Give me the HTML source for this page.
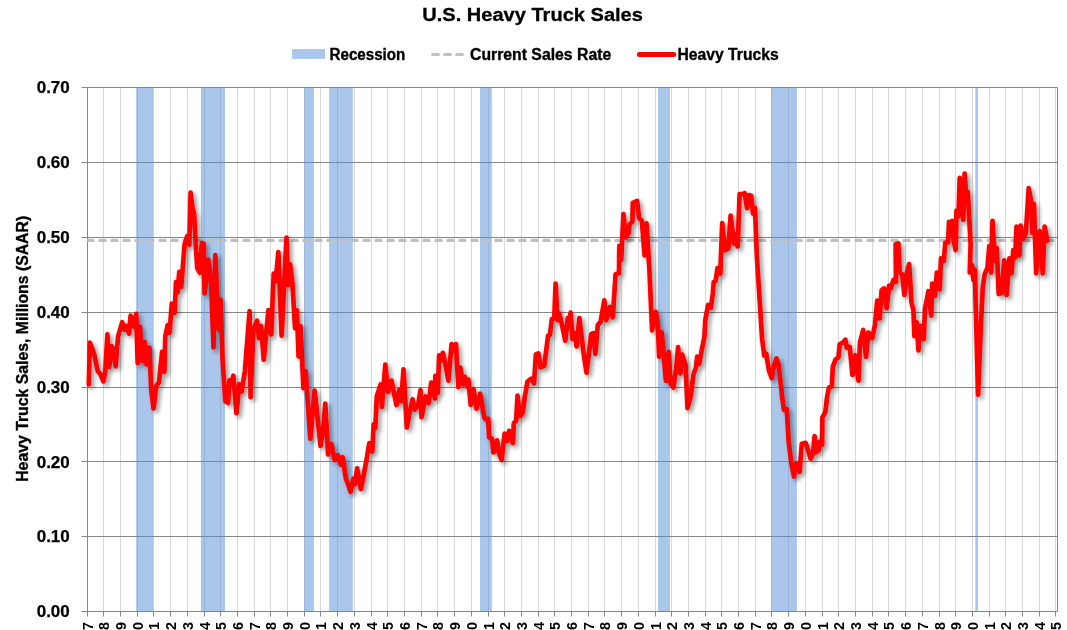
<!DOCTYPE html>
<html><head><meta charset="utf-8"><title>U.S. Heavy Truck Sales</title>
<style>
html,body{margin:0;padding:0;background:#fff;}
body{width:1067px;height:630px;overflow:hidden;}
svg{display:block;font-family:"Liberation Sans",sans-serif;font-weight:bold;fill:#000;}
</style></head><body>
<svg width="1067" height="630" viewBox="0 0 1067 630">
<defs>
<filter id="sh" x="-5%" y="-5%" width="110%" height="115%"><feDropShadow dx="2.7" dy="2.7" stdDeviation="2.3" flood-color="#000" flood-opacity="0.42"/></filter>
</defs>
<rect width="1067" height="630" fill="#fff"/>
<path d="M103.5 87.6V611.5M120.5 87.6V611.5M137.5 87.6V611.5M153.5 87.6V611.5M170.5 87.6V611.5M187.5 87.6V611.5M204.5 87.6V611.5M220.5 87.6V611.5M237.5 87.6V611.5M254.5 87.6V611.5M270.5 87.6V611.5M287.5 87.6V611.5M304.5 87.6V611.5M320.5 87.6V611.5M337.5 87.6V611.5M354.5 87.6V611.5M371.5 87.6V611.5M387.5 87.6V611.5M404.5 87.6V611.5M421.5 87.6V611.5M437.5 87.6V611.5M454.5 87.6V611.5M471.5 87.6V611.5M488.5 87.6V611.5M504.5 87.6V611.5M521.5 87.6V611.5M538.5 87.6V611.5M554.5 87.6V611.5M571.5 87.6V611.5M588.5 87.6V611.5M604.5 87.6V611.5M621.5 87.6V611.5M638.5 87.6V611.5M655.5 87.6V611.5M671.5 87.6V611.5M688.5 87.6V611.5M705.5 87.6V611.5M721.5 87.6V611.5M738.5 87.6V611.5M755.5 87.6V611.5M771.5 87.6V611.5M788.5 87.6V611.5M805.5 87.6V611.5M822.5 87.6V611.5M838.5 87.6V611.5M855.5 87.6V611.5M872.5 87.6V611.5M888.5 87.6V611.5M905.5 87.6V611.5M922.5 87.6V611.5M939.5 87.6V611.5M955.5 87.6V611.5M972.5 87.6V611.5M989.5 87.6V611.5M1005.5 87.6V611.5M1022.5 87.6V611.5M1039.5 87.6V611.5M1055.5 87.6V611.5" stroke="#D9D9D9" stroke-width="1" fill="none"/>
<path d="M81.5 87.5H1057.4M81.5 162.5H1057.4M81.5 237.5H1057.4M81.5 312.5H1057.4M81.5 387.5H1057.4M81.5 461.5H1057.4M81.5 536.5H1057.4M81.5 611.5H1057.4" stroke="#868686" stroke-width="1" fill="none"/>
<path d="M87.5 87.6V611.5M1057.5 87.6V611.5" stroke="#868686" stroke-width="1" fill="none"/>
<path d="M87.5 611.5V616.5M103.5 611.5V616.5M120.5 611.5V616.5M137.5 611.5V616.5M153.5 611.5V616.5M170.5 611.5V616.5M187.5 611.5V616.5M204.5 611.5V616.5M220.5 611.5V616.5M237.5 611.5V616.5M254.5 611.5V616.5M270.5 611.5V616.5M287.5 611.5V616.5M304.5 611.5V616.5M320.5 611.5V616.5M337.5 611.5V616.5M354.5 611.5V616.5M371.5 611.5V616.5M387.5 611.5V616.5M404.5 611.5V616.5M421.5 611.5V616.5M437.5 611.5V616.5M454.5 611.5V616.5M471.5 611.5V616.5M488.5 611.5V616.5M504.5 611.5V616.5M521.5 611.5V616.5M538.5 611.5V616.5M554.5 611.5V616.5M571.5 611.5V616.5M588.5 611.5V616.5M604.5 611.5V616.5M621.5 611.5V616.5M638.5 611.5V616.5M655.5 611.5V616.5M671.5 611.5V616.5M688.5 611.5V616.5M705.5 611.5V616.5M721.5 611.5V616.5M738.5 611.5V616.5M755.5 611.5V616.5M771.5 611.5V616.5M788.5 611.5V616.5M805.5 611.5V616.5M822.5 611.5V616.5M838.5 611.5V616.5M855.5 611.5V616.5M872.5 611.5V616.5M888.5 611.5V616.5M905.5 611.5V616.5M922.5 611.5V616.5M939.5 611.5V616.5M955.5 611.5V616.5M972.5 611.5V616.5M989.5 611.5V616.5M1005.5 611.5V616.5M1022.5 611.5V616.5M1039.5 611.5V616.5M1055.5 611.5V616.5" stroke="#868686" stroke-width="1" fill="none"/>
<rect x="136.1" y="87.6" width="17.1" height="523.9" fill="#558ED5" fill-opacity="0.5"/>
<rect x="200.9" y="87.6" width="24.1" height="523.9" fill="#558ED5" fill-opacity="0.5"/>
<rect x="304.1" y="87.6" width="9.8" height="523.9" fill="#558ED5" fill-opacity="0.5"/>
<rect x="329.1" y="87.6" width="23.7" height="523.9" fill="#558ED5" fill-opacity="0.5"/>
<rect x="480.0" y="87.6" width="11.8" height="523.9" fill="#558ED5" fill-opacity="0.5"/>
<rect x="658.0" y="87.6" width="12.0" height="523.9" fill="#558ED5" fill-opacity="0.5"/>
<rect x="771.1" y="87.6" width="25.8" height="523.9" fill="#558ED5" fill-opacity="0.5"/>
<rect x="975.3" y="87.6" width="2.7" height="523.9" fill="#558ED5" fill-opacity="0.5"/>
<path d="M87.5 240.4H1057.4" stroke="#BFBFBF" stroke-width="3.2" stroke-dasharray="5.2 6.8" stroke-dashoffset="-0.4" stroke-linecap="round" fill="none"/>
<path d="M88.8 384.5 L89.9 342.5 L94.1 354.1 L97.8 371.0 L100.6 374.7 L103.4 381.3 L105.3 371.0 L107.4 334.4 L109.2 366.9 L111.7 346.2 L113.4 349.4 L115.6 366.3 L118.1 336.3 L122.2 322.2 L124.6 329.7 L126.5 326.0 L129.1 333.5 L130.6 315.7 L133.0 321.3 L134.4 326.9 L136.2 313.8 L137.7 363.1 L140.0 326.9 L142.4 360.7 L144.7 341.9 L146.5 364.4 L149.4 347.5 L151.2 389.7 L153.5 408.5 L156.1 386.3 L159.1 382.2 L160.4 368.0 L162.1 351.9 L164.3 371.9 L165.3 336.3 L167.7 325.1 L169.6 332.6 L171.8 303.5 L174.7 312.9 L176.0 282.2 L177.5 292.5 L179.3 271.8 L181.2 286.8 L182.7 268.1 L184.6 244.7 L187.2 236.2 L189.3 244.7 L190.6 192.7 L192.5 208.1 L194.0 213.7 L197.2 268.1 L200.0 272.8 L201.8 242.8 L203.7 243.7 L204.6 293.4 L208.4 259.7 L211.2 285.0 L213.5 347.5 L215.3 255.0 L218.7 329.7 L220.6 299.7 L222.5 357.9 L225.3 401.0 L228.1 402.8 L229.4 380.3 L231.5 384.1 L233.3 375.7 L236.5 413.2 L239.3 384.1 L241.6 391.6 L244.9 371.0 L249.6 311.0 L250.6 397.2 L253.4 329.7 L257.1 320.7 L259.0 338.2 L261.1 326.0 L263.7 359.7 L268.4 310.1 L271.2 334.4 L273.7 273.7 L275.6 281.2 L278.4 252.2 L281.6 335.6 L286.5 237.7 L288.2 285.0 L290.1 264.4 L292.5 284.0 L295.0 328.1 L296.9 310.3 L298.6 356.5 L300.6 326.0 L303.4 388.1 L305.6 371.2 L310.3 438.7 L314.6 390.6 L320.6 445.9 L322.9 431.9 L325.3 403.7 L328.1 454.4 L331.3 444.0 L334.7 460.0 L337.9 455.3 L340.9 464.7 L342.7 457.2 L345.9 478.7 L347.8 483.4 L350.6 491.8 L353.4 478.7 L354.9 484.3 L357.2 468.4 L360.9 489.0 L363.7 475.0 L366.5 460.0 L369.3 443.1 L372.2 451.5 L373.7 424.4 L375.3 428.1 L376.8 396.5 L380.6 384.4 L381.9 406.9 L385.3 364.7 L388.1 391.9 L391.5 380.6 L394.1 393.7 L396.5 405.0 L399.3 390.0 L401.2 401.2 L403.5 369.4 L406.8 427.5 L409.6 412.5 L412.5 399.4 L414.7 409.7 L418.1 405.0 L420.5 390.0 L421.5 417.2 L425.6 396.5 L428.8 403.1 L431.2 382.5 L434.9 398.4 L435.3 375.9 L437.8 392.8 L439.1 355.3 L440.9 360.4 L442.8 352.9 L445.3 363.7 L448.4 380.6 L451.6 344.1 L453.9 351.0 L455.9 344.1 L458.4 387.2 L460.3 367.5 L463.1 384.4 L464.9 376.9 L467.8 387.2 L468.4 379.7 L470.7 405.0 L473.5 389.0 L476.5 408.7 L480.2 393.7 L484.4 418.1 L486.2 419.7 L488.1 418.7 L489.1 437.5 L491.9 438.4 L493.4 452.5 L495.2 450.6 L497.1 440.3 L499.4 454.4 L501.6 460.0 L504.6 433.7 L506.9 441.2 L509.1 430.9 L512.9 443.1 L513.8 423.4 L516.2 420.6 L517.5 395.6 L520.0 416.2 L522.8 412.5 L524.7 397.5 L527.5 381.5 L531.2 378.7 L534.0 383.4 L535.9 354.4 L538.4 353.4 L540.6 367.5 L544.3 365.6 L546.2 350.6 L548.1 335.6 L550.0 335.1 L551.8 319.2 L554.3 318.2 L555.6 283.6 L557.5 320.1 L559.3 313.5 L562.2 325.7 L565.3 340.7 L567.8 318.2 L568.7 323.9 L570.6 312.6 L572.5 338.9 L574.7 333.2 L576.6 346.3 L579.4 318.2 L583.7 353.8 L586.5 372.6 L589.3 350.1 L591.2 334.2 L593.5 333.2 L595.3 353.8 L597.8 324.8 L600.6 322.0 L604.3 300.4 L606.2 320.1 L610.0 307.0 L612.8 317.3 L615.6 274.2 L619.0 273.2 L619.3 245.9 L621.2 260.0 L623.4 214.1 L625.9 237.5 L628.7 232.8 L629.6 224.4 L632.4 221.6 L632.8 202.8 L637.1 200.9 L639.0 217.8 L641.8 220.6 L644.6 255.3 L646.5 223.4 L649.3 267.5 L652.1 330.4 L655.9 311.7 L657.8 323.9 L659.1 356.7 L661.6 332.2 L663.5 351.9 L665.9 380.9 L668.7 351.9 L670.6 383.7 L673.4 387.5 L676.2 368.7 L678.1 347.2 L680.4 373.4 L682.2 354.7 L685.6 365.0 L687.5 408.1 L690.9 395.0 L693.5 374.3 L695.9 367.8 L697.2 356.5 L699.1 364.0 L702.5 346.2 L704.4 336.9 L705.3 320.0 L708.1 305.0 L710.9 307.8 L712.8 293.7 L713.7 282.2 L715.6 281.2 L717.5 268.1 L720.3 273.7 L722.2 223.1 L725.0 250.3 L728.4 248.4 L730.6 215.6 L734.0 243.7 L735.8 234.4 L737.7 246.5 L739.6 194.1 L741.8 194.1 L744.7 193.1 L747.1 208.1 L749.3 195.0 L751.2 195.9 L753.1 213.7 L755.0 208.1 L756.8 255.0 L759.7 301.2 L762.1 338.7 L764.3 355.6 L766.2 353.7 L769.0 370.6 L771.8 378.1 L773.7 366.9 L776.5 358.4 L778.4 364.0 L781.2 387.5 L782.1 396.9 L784.0 410.0 L786.8 409.1 L788.7 441.9 L791.5 464.3 L794.0 476.5 L796.2 463.4 L799.6 471.8 L801.8 443.7 L805.6 442.8 L808.4 451.2 L810.6 458.7 L813.1 453.1 L814.6 436.2 L815.9 452.2 L818.7 450.3 L819.6 441.9 L822.1 444.7 L822.4 417.5 L825.3 411.9 L827.1 396.9 L829.0 387.5 L831.8 386.6 L832.8 366.9 L835.6 359.4 L838.4 357.5 L839.7 344.4 L843.1 342.5 L845.3 339.7 L846.9 347.8 L849.7 346.9 L852.5 375.0 L855.3 355.3 L858.5 380.6 L860.0 342.2 L863.2 330.0 L866.0 356.8 L868.4 332.5 L872.2 338.1 L875.0 325.0 L877.2 300.6 L879.7 318.4 L881.6 290.3 L884.0 288.4 L886.6 308.1 L889.1 285.6 L890.9 288.4 L893.4 280.0 L896.0 281.9 L895.6 244.3 L898.4 243.4 L899.7 272.5 L902.2 274.4 L904.4 295.0 L906.9 272.5 L909.1 264.1 L911.5 302.5 L913.4 310.0 L914.4 336.2 L916.8 322.2 L918.5 350.3 L920.4 325.9 L923.7 339.0 L925.0 309.0 L928.4 291.2 L931.2 315.6 L932.2 283.7 L935.0 295.9 L936.9 272.5 L939.7 289.4 L941.0 258.4 L943.8 261.2 L945.3 242.5 L948.1 242.5 L949.0 221.9 L950.9 235.0 L952.2 220.9 L953.7 240.6 L955.6 250.0 L956.5 210.6 L958.4 216.2 L959.7 177.8 L963.3 220.0 L964.6 173.5 L966.5 199.4 L967.8 191.9 L969.1 216.2 L970.6 244.3 L969.7 272.5 L972.1 265.0 L973.4 280.0 L974.7 269.7 L976.2 325.0 L978.1 394.7 L980.9 325.0 L982.8 287.5 L984.6 274.4 L987.5 267.8 L989.3 246.2 L991.2 272.5 L992.5 220.9 L995.0 261.2 L996.8 248.1 L998.7 294.0 L1001.5 293.1 L1004.3 260.3 L1006.6 295.0 L1009.4 258.4 L1011.5 273.4 L1013.3 250.0 L1015.2 257.5 L1016.5 226.5 L1019.3 255.6 L1020.6 225.6 L1023.1 238.7 L1025.9 233.1 L1028.7 188.1 L1031.5 203.1 L1032.4 233.1 L1033.9 204.0 L1036.2 273.4 L1039.6 231.2 L1042.8 273.4 L1044.6 226.5 L1047.4 240.6" stroke="#FF0000" stroke-width="4.7" stroke-linejoin="round" stroke-linecap="round" fill="none" filter="url(#sh)"/>
<text x="422.3" y="21" font-size="18.7" stroke="#000" stroke-width="0.3" textLength="220.6" lengthAdjust="spacingAndGlyphs">U.S. Heavy Truck Sales</text>
<rect x="292" y="49.1" width="33" height="9.8" fill="#558ED5" fill-opacity="0.5"/>
<text x="329.6" y="60" font-size="15.8" stroke="#000" stroke-width="0.35" textLength="75.7" lengthAdjust="spacingAndGlyphs">Recession</text>
<path d="M432.7 54.5H462.3" stroke="#BFBFBF" stroke-width="3.2" stroke-dasharray="5.6 6.4" stroke-linecap="round" fill="none"/>
<text x="470.0" y="60" font-size="15.8" stroke="#000" stroke-width="0.35" textLength="141.2" lengthAdjust="spacingAndGlyphs">Current Sales Rate</text>
<path d="M639.4 54.4H673.7" stroke="#FF0000" stroke-width="5" stroke-linecap="round" fill="none"/>
<text x="677.5" y="60" font-size="15.8" stroke="#000" stroke-width="0.35" textLength="101.2" lengthAdjust="spacingAndGlyphs">Heavy Trucks</text>
<text x="36.7" y="93.3" font-size="16.3" stroke="#000" stroke-width="0.25" textLength="33.1" lengthAdjust="spacingAndGlyphs">0.70</text>
<text x="36.7" y="168.1" font-size="16.3" stroke="#000" stroke-width="0.25" textLength="33.1" lengthAdjust="spacingAndGlyphs">0.60</text>
<text x="36.7" y="243.0" font-size="16.3" stroke="#000" stroke-width="0.25" textLength="33.1" lengthAdjust="spacingAndGlyphs">0.50</text>
<text x="36.7" y="317.8" font-size="16.3" stroke="#000" stroke-width="0.25" textLength="33.1" lengthAdjust="spacingAndGlyphs">0.40</text>
<text x="36.7" y="392.7" font-size="16.3" stroke="#000" stroke-width="0.25" textLength="33.1" lengthAdjust="spacingAndGlyphs">0.30</text>
<text x="36.7" y="467.6" font-size="16.3" stroke="#000" stroke-width="0.25" textLength="33.1" lengthAdjust="spacingAndGlyphs">0.20</text>
<text x="36.7" y="542.4" font-size="16.3" stroke="#000" stroke-width="0.25" textLength="33.1" lengthAdjust="spacingAndGlyphs">0.10</text>
<text x="36.7" y="617.2" font-size="16.3" stroke="#000" stroke-width="0.25" textLength="33.1" lengthAdjust="spacingAndGlyphs">0.00</text>
<text transform="translate(27.9 481.8) rotate(-90)" font-size="15.8" stroke="#000" stroke-width="0.35" textLength="266" lengthAdjust="spacingAndGlyphs">Heavy Truck Sales, Millions (SAAR)</text>
<text transform="translate(92.7 622.0) rotate(-90)" text-anchor="end" font-size="14.4">Jan-67</text>
<text transform="translate(108.7 622.0) rotate(-90)" text-anchor="end" font-size="14.4">Jan-68</text>
<text transform="translate(125.7 622.0) rotate(-90)" text-anchor="end" font-size="14.4">Jan-69</text>
<text transform="translate(142.7 622.0) rotate(-90)" text-anchor="end" font-size="14.4">Jan-70</text>
<text transform="translate(158.7 622.0) rotate(-90)" text-anchor="end" font-size="14.4">Jan-71</text>
<text transform="translate(175.7 622.0) rotate(-90)" text-anchor="end" font-size="14.4">Jan-72</text>
<text transform="translate(192.7 622.0) rotate(-90)" text-anchor="end" font-size="14.4">Jan-73</text>
<text transform="translate(209.7 622.0) rotate(-90)" text-anchor="end" font-size="14.4">Jan-74</text>
<text transform="translate(225.7 622.0) rotate(-90)" text-anchor="end" font-size="14.4">Jan-75</text>
<text transform="translate(242.7 622.0) rotate(-90)" text-anchor="end" font-size="14.4">Jan-76</text>
<text transform="translate(259.7 622.0) rotate(-90)" text-anchor="end" font-size="14.4">Jan-77</text>
<text transform="translate(275.7 622.0) rotate(-90)" text-anchor="end" font-size="14.4">Jan-78</text>
<text transform="translate(292.7 622.0) rotate(-90)" text-anchor="end" font-size="14.4">Jan-79</text>
<text transform="translate(309.7 622.0) rotate(-90)" text-anchor="end" font-size="14.4">Jan-80</text>
<text transform="translate(325.7 622.0) rotate(-90)" text-anchor="end" font-size="14.4">Jan-81</text>
<text transform="translate(342.7 622.0) rotate(-90)" text-anchor="end" font-size="14.4">Jan-82</text>
<text transform="translate(359.7 622.0) rotate(-90)" text-anchor="end" font-size="14.4">Jan-83</text>
<text transform="translate(376.7 622.0) rotate(-90)" text-anchor="end" font-size="14.4">Jan-84</text>
<text transform="translate(392.7 622.0) rotate(-90)" text-anchor="end" font-size="14.4">Jan-85</text>
<text transform="translate(409.7 622.0) rotate(-90)" text-anchor="end" font-size="14.4">Jan-86</text>
<text transform="translate(426.7 622.0) rotate(-90)" text-anchor="end" font-size="14.4">Jan-87</text>
<text transform="translate(442.7 622.0) rotate(-90)" text-anchor="end" font-size="14.4">Jan-88</text>
<text transform="translate(459.7 622.0) rotate(-90)" text-anchor="end" font-size="14.4">Jan-89</text>
<text transform="translate(476.7 622.0) rotate(-90)" text-anchor="end" font-size="14.4">Jan-90</text>
<text transform="translate(493.7 622.0) rotate(-90)" text-anchor="end" font-size="14.4">Jan-91</text>
<text transform="translate(509.7 622.0) rotate(-90)" text-anchor="end" font-size="14.4">Jan-92</text>
<text transform="translate(526.7 622.0) rotate(-90)" text-anchor="end" font-size="14.4">Jan-93</text>
<text transform="translate(543.7 622.0) rotate(-90)" text-anchor="end" font-size="14.4">Jan-94</text>
<text transform="translate(559.7 622.0) rotate(-90)" text-anchor="end" font-size="14.4">Jan-95</text>
<text transform="translate(576.7 622.0) rotate(-90)" text-anchor="end" font-size="14.4">Jan-96</text>
<text transform="translate(593.7 622.0) rotate(-90)" text-anchor="end" font-size="14.4">Jan-97</text>
<text transform="translate(609.7 622.0) rotate(-90)" text-anchor="end" font-size="14.4">Jan-98</text>
<text transform="translate(626.7 622.0) rotate(-90)" text-anchor="end" font-size="14.4">Jan-99</text>
<text transform="translate(643.7 622.0) rotate(-90)" text-anchor="end" font-size="14.4">Jan-00</text>
<text transform="translate(660.7 622.0) rotate(-90)" text-anchor="end" font-size="14.4">Jan-01</text>
<text transform="translate(676.7 622.0) rotate(-90)" text-anchor="end" font-size="14.4">Jan-02</text>
<text transform="translate(693.7 622.0) rotate(-90)" text-anchor="end" font-size="14.4">Jan-03</text>
<text transform="translate(710.7 622.0) rotate(-90)" text-anchor="end" font-size="14.4">Jan-04</text>
<text transform="translate(726.7 622.0) rotate(-90)" text-anchor="end" font-size="14.4">Jan-05</text>
<text transform="translate(743.7 622.0) rotate(-90)" text-anchor="end" font-size="14.4">Jan-06</text>
<text transform="translate(760.7 622.0) rotate(-90)" text-anchor="end" font-size="14.4">Jan-07</text>
<text transform="translate(776.7 622.0) rotate(-90)" text-anchor="end" font-size="14.4">Jan-08</text>
<text transform="translate(793.7 622.0) rotate(-90)" text-anchor="end" font-size="14.4">Jan-09</text>
<text transform="translate(810.7 622.0) rotate(-90)" text-anchor="end" font-size="14.4">Jan-10</text>
<text transform="translate(827.7 622.0) rotate(-90)" text-anchor="end" font-size="14.4">Jan-11</text>
<text transform="translate(843.7 622.0) rotate(-90)" text-anchor="end" font-size="14.4">Jan-12</text>
<text transform="translate(860.7 622.0) rotate(-90)" text-anchor="end" font-size="14.4">Jan-13</text>
<text transform="translate(877.7 622.0) rotate(-90)" text-anchor="end" font-size="14.4">Jan-14</text>
<text transform="translate(893.7 622.0) rotate(-90)" text-anchor="end" font-size="14.4">Jan-15</text>
<text transform="translate(910.7 622.0) rotate(-90)" text-anchor="end" font-size="14.4">Jan-16</text>
<text transform="translate(927.7 622.0) rotate(-90)" text-anchor="end" font-size="14.4">Jan-17</text>
<text transform="translate(944.7 622.0) rotate(-90)" text-anchor="end" font-size="14.4">Jan-18</text>
<text transform="translate(960.7 622.0) rotate(-90)" text-anchor="end" font-size="14.4">Jan-19</text>
<text transform="translate(977.7 622.0) rotate(-90)" text-anchor="end" font-size="14.4">Jan-20</text>
<text transform="translate(994.7 622.0) rotate(-90)" text-anchor="end" font-size="14.4">Jan-21</text>
<text transform="translate(1010.7 622.0) rotate(-90)" text-anchor="end" font-size="14.4">Jan-22</text>
<text transform="translate(1027.7 622.0) rotate(-90)" text-anchor="end" font-size="14.4">Jan-23</text>
<text transform="translate(1044.7 622.0) rotate(-90)" text-anchor="end" font-size="14.4">Jan-24</text>
<text transform="translate(1060.7 622.0) rotate(-90)" text-anchor="end" font-size="14.4">Jan-25</text>
</svg></body></html>
